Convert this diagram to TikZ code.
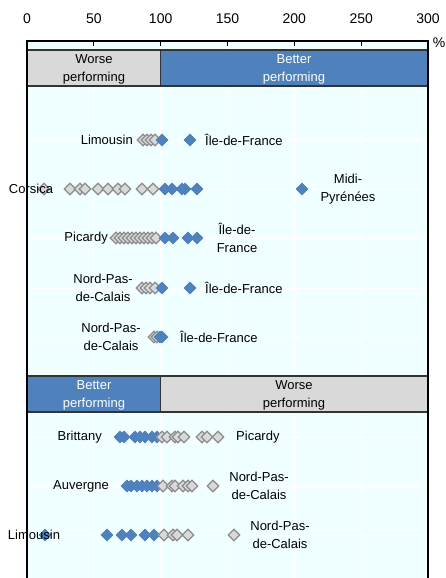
\documentclass[tikz,border=0pt]{standalone}
\usepackage{fontspec}
\setmainfont{Liberation Sans}
\usetikzlibrary{shapes.geometric}
\definecolor{oblue}{HTML}{4F81BD}
\definecolor{lgray}{HTML}{D9D9D9}
\definecolor{dgray}{HTML}{8C8C8C}
\definecolor{bgc}{HTML}{F0FFFF}
\tikzset{
  diag/.style={diamond, minimum width=12pt, minimum height=12pt, inner sep=0pt, fill=lgray, draw=dgray, line width=1.2pt},
  diab/.style={diamond, minimum width=12pt, minimum height=12pt, inner sep=0pt, fill=oblue, draw=oblue, line width=0.6pt},
  lab/.style={inner sep=0pt, font=\fontsize{13}{18}\selectfont, align=center},
  tick/.style={inner sep=0pt, font=\fontsize{14}{16}\selectfont},
  grid/.style={white, line width=0.8pt},
  axisline/.style={black, line width=1.5pt},
  bandline/.style={black!80, line width=1.2pt}
}
\begin{document}
\begin{tikzpicture}[x=1pt,y=-1pt]
\useasboundingbox (0,0) rectangle (446,578);
% background
\fill[bgc] (27,41) rectangle (428,578);
\foreach \v in {50,100,150,200,250}
  \draw[grid] ({27+1.3367*\v},41) -- ({27+1.3367*\v},578);
\foreach \y in {140,189,238,288,337,437,486,535}
  \draw[grid] (27,\y) -- (428,\y);
% top band
\fill[lgray] (27,50) rectangle (160.7,86);
\fill[oblue] (160.7,50) rectangle (428,86);
\draw[bandline] (27,50) -- (428,50) (27,86) -- (428,86) (160.7,50) -- (160.7,86);
\node[lab] (tw) at (94,69) {Worse\\performing};
\node[lab, text=white] (tb) at (294,69) {Better\\performing};
% bottom band
\fill[oblue] (27,376) rectangle (160.7,412);
\fill[lgray] (160.7,376) rectangle (428,412);
\draw[bandline] (27,376) -- (428,376) (27,412) -- (428,412) (160.7,376) -- (160.7,412);
\node[lab, text=white] (bb) at (94,395) {Better\\performing};
\node[lab] (bw) at (294,395) {Worse\\performing};
% axis box
\draw[axisline] (27,578) -- (27,41) -- (428,41) -- (428,578);
\foreach \v in {50,100,150,200,250}
  \draw[black, line width=1.2pt] ({27+1.3367*\v},41) -- ({27+1.3367*\v},46);
\foreach \v in {0,50,100,150,200,250,300}
  \node[tick] (t\v) at ({27+1.3367*\v},19) {\v};
\node[tick] (pct) at (439,43) {\%};
% diamonds
\foreach \x/\t in {143/g,147/g,151/g,155/g,162/b,190/b}
  \node[dia\t] at (\x,140) {};
\foreach \x/\t in {44/g,70/g,80/g,85/g,98/g,108/g,118/g,125/g,142/g,153/g,165/b,172/b,182/b,185/b,197/b,302/b}
  \node[dia\t] at (\x,189) {};
\foreach \x/\t in {116/g,120/g,124/g,128/g,132/g,136/g,140/g,144/g,148/g,152/g,156/g,165/b,173/b,188/b,197/b}
  \node[dia\t] at (\x,238) {};
\foreach \x/\t in {142/g,146/g,150/g,155/g,162/b,190/b}
  \node[dia\t] at (\x,288) {};
\foreach \x/\t in {154/g,157/g,160/b,162/b}
  \node[dia\t] at (\x,337) {};
\foreach \x/\t in {120/b,124/b,135/b,140/b,145/b,152/b,157/b,162/g,167/g,175/g,178/g,184/g,202/g,207/g,218/g}
  \node[dia\t] at (\x,437) {};
\foreach \x/\t in {127/b,131/b,137/b,142/b,147/b,152/b,157/b,163/g,172/g,175/g,183/g,188/g,192/g,213/g}
  \node[dia\t] at (\x,486) {};
\foreach \x/\t in {45/b,107/b,122/b,131/b,145/b,154/b,164/g,173/g,177/g,188/g,234/g}
  \node[dia\t] at (\x,535) {};
% labels
\node[lab, anchor=east] (l1) at (133,140) {Limousin};
\node[lab, anchor=west] (r1) at (205,140) {Île-de-France};
\node[lab] (l2) at (31,189) {Corsica};
\node[lab] (r2) at (348,189) {Midi-\\Pyrénées};
\node[lab, anchor=east] (l3) at (108,238) {Picardy};
\node[lab] (r3) at (237,238) {Île-de-\\France};
\node[lab] (l4) at (103,288) {Nord-Pas-\\de-Calais};
\node[lab, anchor=west] (r4) at (205,288) {Île-de-France};
\node[lab] (l5) at (111,337) {Nord-Pas-\\de-Calais};
\node[lab, anchor=west] (r5) at (180,337) {Île-de-France};
\node[lab, anchor=east] (l6) at (102,437) {Brittany};
\node[lab, anchor=west] (r6) at (236,437) {Picardy};
\node[lab, anchor=east] (l7) at (109,486) {Auvergne};
\node[lab] (r7) at (259,486) {Nord-Pas-\\de-Calais};
\node[lab] (l8) at (34,535) {Limousin};
\node[lab] (r8) at (280,535) {Nord-Pas-\\de-Calais};
\end{tikzpicture}
\end{document}
